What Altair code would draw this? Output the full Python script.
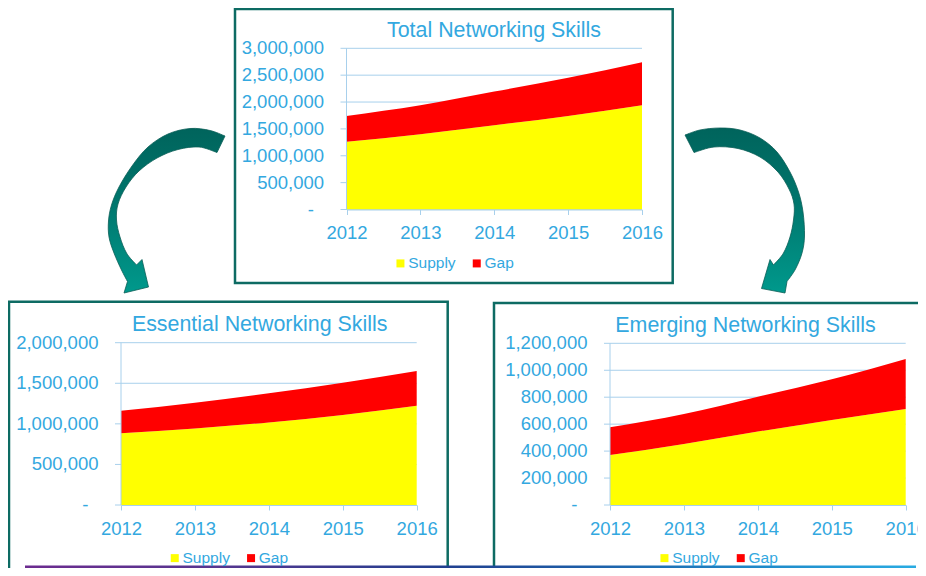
import altair as alt
import pandas as pd

# ---------------- data ----------------
YEARS = [2012, 2013, 2014, 2015, 2016]
SERIES = ["Supply", "Gap"]
SERIES_COLORS = ["#FFFF00", "#FF0000"]

TOTAL_SUPPLY = [1260000, 1402000, 1569000, 1742000, 1940000]
TOTAL_GAP = [482000, 538000, 626000, 708000, 800000]
ESSENTIAL_SUPPLY = [883000, 944000, 1018000, 1109000, 1222000]
ESSENTIAL_GAP = [279000, 317000, 358000, 398000, 429000]
EMERGING_SUPPLY = [371000, 453000, 545000, 631000, 713000]
EMERGING_GAP = [206000, 223000, 259000, 302000, 371000]

TOTAL_TICKS = [0, 500000, 1000000, 1500000, 2000000, 2500000, 3000000]
ESSENTIAL_TICKS = [0, 500000, 1000000, 1500000, 2000000]
EMERGING_TICKS = [0, 200000, 400000, 600000, 800000, 1000000, 1200000]
ZERO_LABEL = "-"

TITLES = ["Total Networking Skills", "Essential Networking Skills",
          "Emerging Networking Skills"]

# ---------------- style / layout ----------------
W, H = 910, 560
FONT = "Liberation Sans"
BLUE = "#33A8E0"
GRID = "#A8D0EC"
TEAL = "#0D6B63"
AXIS_FS = 18.5
ONE = pd.DataFrame({"k": [0]})


def tick_labels(ticks):
    return [ZERO_LABEL if t == 0 else f"{t:,}" for t in ticks]


def panel(supply, gap, ticks, xr, yr, legend_xy):
    df = pd.DataFrame({
        "year": YEARS * 2,
        "series": [SERIES[0]] * len(YEARS) + [SERIES[1]] * len(YEARS),
        "value": supply + gap,
        "k": [0] * len(YEARS) + [1] * len(YEARS),
    })
    tdf = pd.DataFrame({"tick": ticks, "label": tick_labels(ticks)})
    xs = alt.Scale(domain=[YEARS[0], YEARS[-1]], range=xr, nice=False, zero=False)
    ys = alt.Scale(domain=[0, ticks[-1]], range=yr, nice=False, zero=True)
    x_axis = alt.Axis(
        orient="bottom", offset=-(H - yr[0]), values=YEARS, format="d",
        title=None, grid=False, domainColor=GRID, domainWidth=1,
        tickColor=GRID, tickSize=5, labelFont=FONT, labelFontSize=AXIS_FS,
        labelColor=BLUE, labelPadding=9, labelFlush=False,
        labelOverlap=False, zindex=1)
    # horizontal gridlines (extending left as tick marks)
    grid = alt.Chart(tdf).mark_rule(color=GRID, strokeWidth=1).encode(
        y=alt.Y("tick:Q", scale=ys, axis=None),
        x=alt.value(xr[0] - 6), x2=alt.value(xr[1]),
    )
    area = alt.Chart(df).mark_area(interpolate="monotone", opacity=1).encode(
        x=alt.X("year:Q", scale=xs, axis=x_axis),
        y=alt.Y("value:Q", stack="zero", scale=ys, axis=None),
        color=alt.Color("series:N", scale=alt.Scale(domain=SERIES, range=SERIES_COLORS),
                        legend=alt.Legend(
                            orient="none", legendX=legend_xy[0], legendY=legend_xy[1],
                            direction="horizontal", title=None, symbolType="square",
                            symbolSize=64, symbolStrokeWidth=0, labelFont=FONT,
                            labelFontSize=15.5, labelColor=BLUE, labelOffset=0,
                            columnPadding=13.3)),
        order=alt.Order("k:Q"),
    )
    # y axis line
    y_domain = alt.Chart(ONE).mark_rule(color=GRID, strokeWidth=1).encode(
        x=alt.value(xr[0]), y=alt.value(yr[0]), y2=alt.value(yr[1]))
    # y axis labels (zero shown as an accounting dash, set further left)
    y_labels = alt.Chart(tdf).transform_filter("datum.tick > 0").mark_text(
        font=FONT, fontSize=AXIS_FS, color=BLUE, align="right", baseline="middle").encode(
        y=alt.Y("tick:Q", scale=ys, axis=None),
        x=alt.value(xr[0] - 22.5),
        text="label:N",
    )
    y_zero = alt.Chart(tdf).transform_filter("datum.tick === 0").mark_text(
        font=FONT, fontSize=AXIS_FS, color=BLUE, align="right", baseline="middle").encode(
        y=alt.Y("tick:Q", scale=ys, axis=None),
        x=alt.value(xr[0] - 32.5),
        text="label:N",
    )
    return alt.layer(grid, area, y_domain, y_labels, y_zero)


def title_text(txt, x, y):
    return alt.Chart(ONE).mark_text(
        text=txt, font=FONT, fontSize=21.4, color=BLUE, align="center",
        baseline="alphabetic").encode(x=alt.value(x), y=alt.value(y))


def border(x, x2, y, y2):
    return alt.Chart(ONE).mark_rect(
        fill="white", fillOpacity=0, stroke=TEAL, strokeWidth=2.5).encode(
        x=alt.value(x), x2=alt.value(x2), y=alt.value(y), y2=alt.value(y2))


def smooth(points):
    cmds = []
    n = len(points)
    for i in range(n - 1):
        p0 = points[i - 1] if i > 0 else points[i]
        p1, p2 = points[i], points[i + 1]
        p3 = points[i + 2] if i + 2 < n else p2
        c1 = (p1[0] + (p2[0] - p0[0]) / 6, p1[1] + (p2[1] - p0[1]) / 6)
        c2 = (p2[0] - (p3[0] - p1[0]) / 6, p2[1] - (p3[1] - p1[1]) / 6)
        cmds.append(f"C{c1[0]:.1f},{c1[1]:.1f} {c2[0]:.1f},{c2[1]:.1f} {p2[0]:.1f},{p2[1]:.1f}")
    return " ".join(cmds)


def arrow_path(outer, head, inner):
    sh = lambda pts: [(p[0] - 8, p[1] - 8) for p in pts]
    outer, head, inner = sh(outer), sh(head), sh(inner)
    d = f"M{outer[0][0]:.1f},{outer[0][1]:.1f} " + smooth(outer)
    for p in head:
        d += f" L{p[0]:.1f},{p[1]:.1f}"
    d += f" L{inner[0][0]:.1f},{inner[0][1]:.1f} " + smooth(inner) + " Z"
    return d


LEFT_OUTER = [(225, 136), (210, 130.5), (190, 128.5), (168, 134), (148, 147), (132, 166),
              (119, 187), (111.5, 205), (108.5, 221), (109, 237), (114, 253), (121.5, 270),
              (127.5, 281.5)]
LEFT_HEAD = [(124, 293), (148.5, 287), (142, 259.5)]
LEFT_INNER = [(136.5, 265), (126.5, 253), (120, 237), (116.5, 220), (118, 204), (126, 187),
              (139, 171), (157, 158), (178, 149.5), (199, 147), (217, 152.5)]

RIGHT_OUTER = [(685, 135), (700, 130), (720, 128), (740, 130), (760, 138), (777, 152),
               (790, 172), (798.5, 192), (803, 212), (804.5, 236), (802, 253), (795.5, 269),
               (787, 281.5)]
RIGHT_HEAD = [(785, 293), (761.5, 288.5), (770, 259.5)]
RIGHT_INNER = [(773.5, 265), (783.5, 253), (790, 237), (793.5, 220), (794, 204), (789, 189),
               (778, 172), (760, 157), (738, 148.5), (714, 147), (694, 152.5)]

ARROW_FILL = alt.Gradient(gradient="linear", x1=0, y1=0, x2=0, y2=1, stops=[
    alt.GradientStop(color="#00645C", offset=0),
    alt.GradientStop(color="#00766D", offset=0.45),
    alt.GradientStop(color="#00998C", offset=1)])


def arrow(path):
    return alt.Chart(ONE).mark_point(
        shape=path, size=4, filled=True, fill=ARROW_FILL, opacity=1,
        stroke="#0A5E57", strokeWidth=0.8).encode(x=alt.value(0), y=alt.value(0))


BAR_FILL = alt.Gradient(gradient="linear", x1=0, y1=0, x2=1, y2=0, stops=[
    alt.GradientStop(color="#6C2C8F", offset=0),
    alt.GradientStop(color="#55368F", offset=0.22),
    alt.GradientStop(color="#213F8F", offset=0.47),
    alt.GradientStop(color="#1D5CA6", offset=0.62),
    alt.GradientStop(color="#1E88C8", offset=0.82),
    alt.GradientStop(color="#29ABE2", offset=1)])

bar = alt.Chart(ONE).mark_rect(fill=BAR_FILL).encode(
    x=alt.value(17), x2=alt.value(908), y=alt.value(557.5), y2=alt.value(561))

p_total = panel(TOTAL_SUPPLY, TOTAL_GAP, TOTAL_TICKS, [338.5, 634], [201.5, 40.3], (384.7, 247.3))
p_ess = panel(ESSENTIAL_SUPPLY, ESSENTIAL_GAP, ESSENTIAL_TICKS, [113, 408.7], [497, 334.7], (159, 542))
p_emg = panel(EMERGING_SUPPLY, EMERGING_GAP, EMERGING_TICKS, [602, 897.7], [497, 335.3], (648.7, 542))

chart = alt.layer(
    border(227, 664.7, 1, 275),
    border(1, 439.7, 293.7, 590),
    border(486, 940, 295, 590),
    p_total, p_ess, p_emg,
    bar,
    title_text(TITLES[0], 486, 28.7),
    title_text(TITLES[1], 251.7, 323),
    title_text(TITLES[2], 737.5, 323.7),
    arrow(arrow_path(LEFT_OUTER, LEFT_HEAD, LEFT_INNER)),
    arrow(arrow_path(RIGHT_OUTER, RIGHT_HEAD, RIGHT_INNER)),
).resolve_scale(
    x="independent", y="independent", color="independent"
).resolve_axis(
    x="independent", y="independent"
).resolve_legend(
    color="independent"
).properties(
    width=W, height=H, padding=0, autosize=alt.AutoSizeParams(type="none")
).configure_view(strokeWidth=0)

chart.save("out.html", embed_options={"renderer": "svg", "actions": False})
